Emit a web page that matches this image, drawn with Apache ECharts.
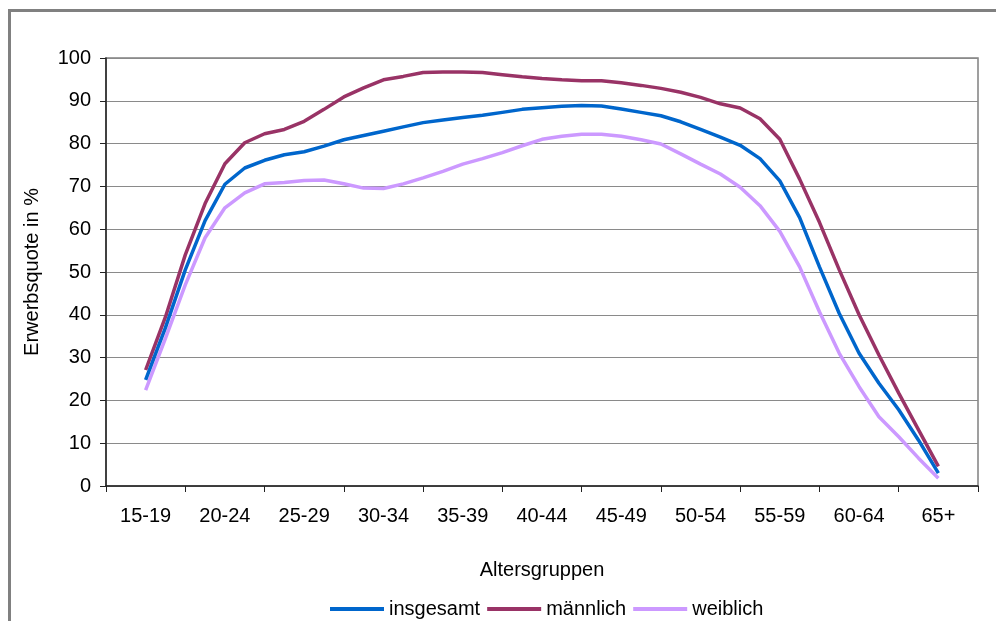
<!DOCTYPE html>
<html>
<head>
<meta charset="utf-8">
<script src="https://cdn.jsdelivr.net/npm/echarts@6/dist/echarts.min.js"></script>
<style>
  html, body { margin: 0; padding: 0; background: #ffffff; }
  #chart { width: 996px; height: 621px; }
</style>
</head>
<body>
<div id="chart"></div>
<script>
// Age groups shown on the category axis
const ageGroups = ['15-19', '20-24', '25-29', '30-34', '35-39', '40-44', '45-49', '50-54', '55-59', '60-64', '65+'];

// Each curve is sampled four times per age group (41 samples from 15-19 to 65+)
const stepsPerGroup = 4;

// Erwerbsquote in % – insgesamt
const insgesamt = [
  24.8, 37.0, 50.5, 62.0, 70.5, 74.3, 76.1, 77.4, 78.1, 79.4,
  80.9, 81.9, 82.9, 83.9, 84.9, 85.5, 86.1, 86.6, 87.3, 88.0,
  88.4, 88.7, 88.9, 88.8, 88.1, 87.3, 86.5, 85.1, 83.3, 81.5,
  79.6, 76.5, 71.3, 62.7, 51.2, 40.3, 31.0, 24.0, 17.8, 10.7,
  3.0
];

// Erwerbsquote in % – männlich
const maennlich = [
  27.1, 39.5, 54.0, 66.0, 75.3, 80.2, 82.3, 83.3, 85.2, 88.0,
  90.9, 93.0, 94.9, 95.7, 96.6, 96.7, 96.7, 96.6, 96.1, 95.6,
  95.2, 94.9, 94.7, 94.7, 94.2, 93.6, 92.9, 92.0, 90.8, 89.3,
  88.3, 85.8, 81.0, 71.7, 61.6, 50.5, 40.0, 30.6, 21.7, 13.1,
  4.6
];

// Erwerbsquote in % – weiblich
const weiblich = [
  22.4, 34.5, 47.0, 58.0, 65.0, 68.5, 70.6, 70.9, 71.4, 71.5,
  70.6, 69.6, 69.5, 70.6, 72.0, 73.5, 75.2, 76.5, 77.9, 79.5,
  81.0, 81.7, 82.2, 82.2, 81.7, 80.9, 79.9, 77.6, 75.2, 72.9,
  69.8, 65.5, 59.5, 51.2, 40.7, 31.0, 23.2, 16.2, 11.5, 6.5,
  1.8
];

const seriesNames = ['insgesamt', 'männlich', 'weiblich'];
const seriesColors = ['#0066CC', '#993366', '#CC99FF'];

const yMin = 0, yMax = 100, yStep = 10;

const FONT = '"Liberation Sans", Arial, sans-serif';

// pair each sample with its position on the age-group scale (group index)
function toPoints(values) {
  return values.map((v, i) => [i / stepsPerGroup, v]);
}

const chart = echarts.init(document.getElementById('chart'), null, { renderer: 'canvas' });

chart.setOption({
  animation: false,
  backgroundColor: '#ffffff',
  textStyle: { fontFamily: FONT },
  graphic: [{
    type: 'rect',
    shape: { x: 9.5, y: 10.5, width: 1100, height: 800 },
    style: { fill: 'none', stroke: '#808080', lineWidth: 3 },
    silent: true,
    z: -1
  }],
  grid: {
    left: 106, right: 18, top: 58, bottom: 135,
    show: true, borderColor: '#808080', borderWidth: 1.5,
    backgroundColor: 'transparent'
  },
  legend: {
    left: 325, top: 594,
    icon: 'rect',
    itemWidth: 54, itemHeight: 4, itemGap: 7,
    textStyle: { fontFamily: FONT, fontSize: 20, color: '#000' },
    data: seriesNames
  },
  xAxis: [{
    type: 'category',
    data: ageGroups,
    boundaryGap: true,
    name: 'Altersgruppen',
    nameLocation: 'middle',
    nameGap: 74,
    nameTextStyle: { fontFamily: FONT, fontSize: 20, color: '#000' },
    axisLine: { onZero: false, lineStyle: { color: '#222', width: 1.5 } },
    axisTick: { show: true, length: 6, lineStyle: { color: '#222', width: 1 } },
    axisLabel: { fontFamily: FONT, fontSize: 20, color: '#000', margin: 20, interval: 0 },
    splitLine: { show: false }
  }, {
    type: 'value',
    min: -0.5,
    max: ageGroups.length - 0.5,
    show: false
  }],
  yAxis: {
    type: 'value',
    min: yMin, max: yMax, interval: yStep,
    name: 'Erwerbsquote in %',
    nameLocation: 'middle',
    nameRotate: 90,
    nameGap: 64,
    nameTextStyle: { fontFamily: FONT, fontSize: 20, color: '#000' },
    axisLine: { show: true, onZero: false, lineStyle: { color: '#222', width: 1.5 } },
    axisTick: { show: true, length: 6, lineStyle: { color: '#222', width: 1 } },
    axisLabel: { fontFamily: FONT, fontSize: 20, color: '#000', margin: 15 },
    splitLine: { show: true, lineStyle: { color: '#8a8a8a', width: 1.2 } }
  },
  series: [insgesamt, maennlich, weiblich].map((vals, k) => ({
    name: seriesNames[k],
    type: 'line',
    xAxisIndex: 1,
    data: toPoints(vals),
    symbol: 'none',
    smooth: false,
    color: seriesColors[k],
    lineStyle: { color: seriesColors[k], width: 3.5 },
    z: 3 - k
  }))
});
</script>
</body>
</html>
